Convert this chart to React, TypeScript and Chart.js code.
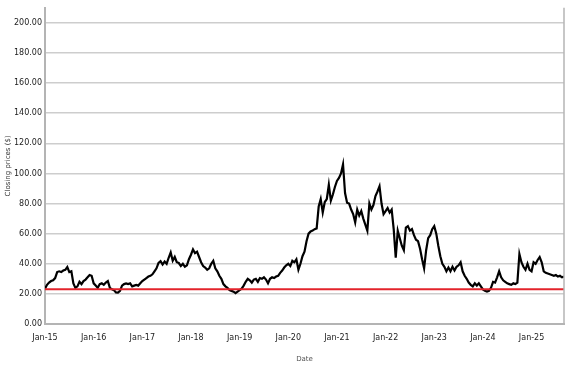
import React, { useEffect, useRef } from "react";
import { Chart, registerables } from "chart.js";

Chart.register(...registerables);

// Semi-monthly closing prices ($)
const Y2015 = [23.5, 26, 27.5, 28.5, 29, 30.5, 34.5, 35, 34.5, 35.5, 36, 37.8, 34.5, 35, 27, 24, 25, 28, 26.5, 28.5, 29.5, 31, 32.5, 32];
const Y2016 = [27, 25.5, 24, 26.5, 27, 26, 27.5, 28.5, 24, 23, 22.5, 21, 20.8, 22, 25.5, 26.5, 27, 26.5, 27, 25, 25.5, 26, 25.5, 27];
const Y2017 = [28.5, 29.5, 30.5, 31.5, 32, 33, 35, 37, 40.6, 41.7, 39.5, 41.5, 40, 44, 47.5, 42, 44.5, 41, 40.5, 38.5, 40, 38, 39, 43];
const Y2018 = [46, 49.5, 47, 48, 44.5, 41, 38.5, 37.5, 36, 37, 40, 42, 37, 35, 32, 30, 26.5, 25, 24, 22.5, 22, 21.5, 20.5, 21.5];
const Y2019 = [22.5, 23.5, 25.5, 28, 30, 29, 27.5, 29.5, 30, 28, 30.5, 30, 31, 29.5, 27, 30, 31, 30.5, 31.5, 32, 34, 35.5, 37.5, 39];
const Y2020 = [40, 38.5, 42, 41, 43, 36, 40, 45, 48, 55, 60, 61.5, 62, 63, 63.5, 78, 83, 74, 81, 83, 92.5, 82, 86, 91];
const Y2021 = [95, 97, 100, 106, 87, 80.5, 80, 76, 73, 67.5, 76, 72, 75, 70, 66, 62, 80, 76, 79, 85, 88, 91.5, 80, 73];
const Y2022 = [75, 77, 74, 76, 63, 44, 62, 57, 52, 49, 64, 65, 62, 63, 59, 56, 55, 50, 43, 37, 49, 57, 59, 63];
const Y2023 = [65, 60, 52, 45, 40, 38, 35, 37.5, 35, 38, 35.5, 38, 39, 41, 35, 32, 30, 27.5, 26, 25, 27, 25.5, 27, 25];
const Y2024 = [23, 22, 21.5, 22, 24, 28, 27.5, 31, 35, 31, 29, 28, 27, 26.5, 26, 27, 26.5, 27.5, 46.5, 41, 38, 36, 40, 36];
const Y2025 = [35, 41, 40, 42.5, 44.5, 41, 35, 34, 33.5, 33, 32.5, 32, 32.5, 31.5, 32, 31, 31.5];

const START_YEAR = 2015;
const STEPS_PER_YEAR = 24;
const SUPPORT_LEVEL = 23;
const TICK_YEARS = [2015, 2016, 2017, 2018, 2019, 2020, 2021, 2022, 2023, 2024, 2025];
const Y_TICKS = [0, 20, 40, 60, 80, 100, 120, 140, 160, 180, 200];

const closes = [...Y2015, ...Y2016, ...Y2017, ...Y2018, ...Y2019, ...Y2020, ...Y2021, ...Y2022, ...Y2023, ...Y2024, ...Y2025];
const X_END = START_YEAR + (closes.length - 1) / STEPS_PER_YEAR;

const rightBorder = {
  id: "rightBorder",
  afterDatasetsDraw(chart: any) {
    const { ctx, chartArea } = chart;
    ctx.save();
    ctx.strokeStyle = "#b4b4b4";
    ctx.lineWidth = 1.5;
    ctx.beginPath();
    ctx.moveTo(chartArea.right, chartArea.top);
    ctx.lineTo(chartArea.right, chartArea.bottom);
    ctx.stroke();
    ctx.restore();
  },
};

export default function App() {
  const ref = useRef<HTMLCanvasElement>(null);
  useEffect(() => {
    document.body.style.margin = "0";
    Chart.defaults.font.family = "'DejaVu Sans', sans-serif";
    const points = closes.map((v, i) => ({ x: START_YEAR + i / STEPS_PER_YEAR, y: v }));
    const chart = new Chart(ref.current!, {
      type: "line",
      data: {
        datasets: [
          {
            label: "Support",
            data: [
              { x: START_YEAR, y: SUPPORT_LEVEL },
              { x: X_END, y: SUPPORT_LEVEL },
            ],
            borderColor: "#e3232b",
            borderWidth: 2,
            pointRadius: 0,
            order: 0,
          },
          {
            label: "Close",
            data: points,
            borderColor: "#000000",
            borderWidth: 2.2,
            pointRadius: 0,
            tension: 0,
            order: 1,
          },
        ],
      },
      options: {
        animation: false,
        responsive: true,
        maintainAspectRatio: false,
        layout: { padding: { top: 3, right: 13, left: 0, bottom: 0 } },
        plugins: { legend: { display: false }, tooltip: { enabled: false } },
        scales: {
          x: {
            type: "linear",
            min: START_YEAR,
            max: X_END,
            afterBuildTicks: (s: any) => {
              s.ticks = TICK_YEARS.map((v) => ({ value: v }));
            },
            afterFit: (s: any) => {
              s.height = 43;
            },
            ticks: {
              autoSkip: false,
              maxRotation: 0,
              padding: 1,
              color: "#222222",
              font: { size: 8 },
              callback: (v: any) => "Jan-" + String(v).slice(2),
            },
            grid: { display: false },
            border: { display: true, color: "#b4b4b4", width: 2 },
            title: {
              display: true,
              text: "Date",
              color: "#555555",
              font: { size: 7 },
              padding: { top: 0, bottom: 4 },
            },
          },
          y: {
            type: "linear",
            min: 0,
            max: 210,
            afterBuildTicks: (s: any) => {
              s.ticks = Y_TICKS.map((v) => ({ value: v }));
            },
            afterFit: (s: any) => {
              s.width = 45;
            },
            ticks: {
              padding: 3,
              color: "#222222",
              font: { size: 8 },
              callback: (v: any) => Number(v).toFixed(2),
            },
            grid: { color: "#cdcdcd", lineWidth: 1.5, drawTicks: false },
            border: { display: true, color: "#b4b4b4", width: 2 },
            title: {
              display: true,
              text: "Closing prices ($)",
              color: "#333333",
              font: { size: 7 },
              padding: { top: 4, bottom: 0 },
            },
          },
        },
      },
      plugins: [rightBorder],
    });
    return () => chart.destroy();
  }, []);
  return (
    <div style={{ width: 577, height: 367, position: "relative" }}>
      <canvas ref={ref} />
    </div>
  );
}
